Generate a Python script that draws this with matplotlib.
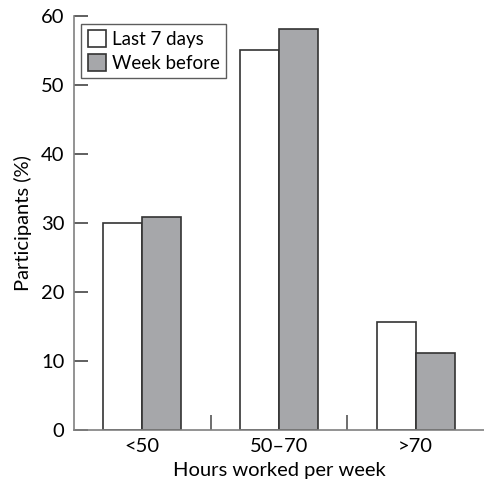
import numpy as np
import matplotlib.pyplot as plt
from matplotlib.ticker import FixedLocator

categories = ['<50', '50\u201370', '>70']
last_7_days = [30.0, 55.0, 15.6]
week_before = [30.8, 58.0, 11.2]

plt.rcParams['font.family'] = ['Lato', 'DejaVu Sans']

fig = plt.figure(figsize=(4.84, 4.87), dpi=100)
ax = fig.add_axes([0.153, 0.117, 0.847, 0.851])

x = np.arange(len(categories))
w = 0.285
ax.bar(x - w / 2, last_7_days, w, color='white', edgecolor='#333333',
       linewidth=1.2, label='Last 7 days')
ax.bar(x + w / 2, week_before, w, color='#a6a7aa', edgecolor='#333333',
       linewidth=1.2, label='Week before')

ax.set_xlim(-0.5, 2.5)
ax.set_ylim(0, 60)
ax.set_yticks(range(0, 61, 10))
ax.set_xticks(x)
ax.set_xticklabels(categories)
ax.xaxis.set_minor_locator(FixedLocator([0.5, 1.5]))

for s in ['top', 'right']:
    ax.spines[s].set_visible(False)
for s in ['left', 'bottom']:
    ax.spines[s].set_color('#808080')
    ax.spines[s].set_linewidth(1.2)

ax.tick_params(axis='y', direction='in', length=10, width=1.2, color='#444444',
               labelsize=14.5, pad=7)
ax.tick_params(axis='x', which='major', length=0, labelsize=14.5, pad=6)
ax.tick_params(axis='x', which='minor', direction='in', length=11, width=1.2,
               color='#555555')

ax.set_ylabel('Participants (%)', fontsize=14.5, labelpad=6)
ax.set_xlabel('Hours worked per week', fontsize=14.5, labelpad=5)

leg = ax.legend(loc='upper left', bbox_to_anchor=(0.017, 0.98), fontsize=13.5,
                frameon=True, fancybox=False, edgecolor='#333333',
                handlelength=1.0, handleheight=1.0, handletextpad=0.3,
                borderpad=0.35, labelspacing=0.3, borderaxespad=0.0)
leg.get_frame().set_linewidth(1.0)

fig.savefig('out.png', dpi=100)
